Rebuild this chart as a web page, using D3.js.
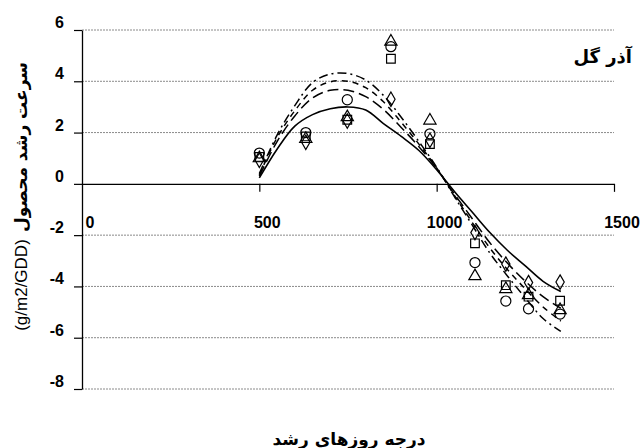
<!DOCTYPE html>
<html>
<head>
<meta charset="utf-8">
<script src="https://cdn.jsdelivr.net/npm/d3@7"></script>
<style>
  html, body { margin: 0; padding: 0; background: #fff; }
  svg { display: block; }
  .num { font-family: "Liberation Sans", Arial, sans-serif; font-weight: bold; font-size: 16px; fill: #000; }
  .fa { font-family: "DejaVu Sans", sans-serif; font-weight: bold; fill: #000; }
</style>
</head>
<body>
<svg id="chart" width="643" height="448"></svg>
<script>
// Growing degree days and observed crop growth rate for each treatment
const gdd = [500, 631, 748, 871, 981, 1108, 1195, 1259, 1348];
const obsCircle   = [1.2, 2.0, 3.28, 5.35, 1.95, -3.07, -4.57, -4.87, -5.08];
const obsSquare   = [1.05, 1.85, 2.5, 4.88, 1.55, -2.32, -3.95, -4.4, -4.56];
const obsTriangle = [1.0, 1.75, 2.6, 5.55, 2.47, -3.6, -4.1, -4.34, -4.92];
const obsDiamond  = [0.92, 1.62, 2.45, 3.3, 1.7, -1.9, -3.13, -3.85, -3.83];

// Fitted growth-rate curves sampled along the GDD axis
const fitX = [500, 550, 600, 650, 700, 750, 800, 850, 900, 950, 1000, 1050, 1100, 1150, 1200, 1250, 1300, 1350];
const fitSolid    = [0.23, 1.35, 2.25, 2.7, 2.93, 3.0, 2.88, 2.35, 1.85, 1.3, 0.55, -0.3, -1.1, -1.9, -2.6, -3.2, -3.8, -4.2];
const fitLongDash = [0.3, 1.65, 2.65, 3.35, 3.65, 3.65, 3.4, 2.9, 2.2, 1.45, 0.6, -0.4, -1.35, -2.3, -3.1, -3.8, -4.4, -4.85];
const fitDash     = [0.35, 1.8, 2.85, 3.65, 3.98, 4.0, 3.75, 3.2, 2.4, 1.55, 0.62, -0.45, -1.5, -2.5, -3.35, -4.1, -4.8, -5.35];
const fitDashDot  = [0.4, 1.9, 3.05, 3.95, 4.28, 4.3, 4.05, 3.45, 2.6, 1.65, 0.65, -0.5, -1.6, -2.7, -3.6, -4.45, -5.25, -5.75];

const xTicks = [0, 500, 1000, 1500];
const yTicks = [6, 4, 2, 0, -2, -4, -6, -8];

const svg = d3.select("#chart");
const x = d3.scaleLinear().domain([0, 1500]).range([82, 614]);
const y = d3.scaleLinear().domain([-8, 6]).range([389, 30]);

// horizontal dashed gridlines
svg.append("g").selectAll("line")
  .data(yTicks.filter(d => d !== 0))
  .join("line")
  .attr("x1", x(0)).attr("x2", x(1500))
  .attr("y1", d => y(d)).attr("y2", d => y(d))
  .attr("stroke", "#8a8a8a").attr("stroke-width", 1)
  .attr("stroke-dasharray", "2,1");

// y axis with left ticks; labels sit a little above their lines
const yAxis = svg.append("g").attr("transform", `translate(${x(0)},0)`)
  .call(d3.axisLeft(y).tickValues(yTicks).tickSize(8).tickSizeOuter(0).tickFormat(""));
yAxis.select(".domain").attr("stroke", "#000").attr("stroke-width", 1.3);
yAxis.selectAll(".tick line").attr("stroke", "#000").attr("stroke-width", 1.2);

svg.append("g").selectAll("text")
  .data(yTicks)
  .join("text")
  .attr("class", "num")
  .attr("x", 64)
  .attr("y", d => y(d) - 2)
  .attr("text-anchor", "end")
  .text(d => d);

// x axis along zero, ticks pointing down
const xAxis = svg.append("g").attr("transform", `translate(0,${y(0)})`)
  .call(d3.axisBottom(x).tickValues(xTicks.filter(d => d > 0)).tickSize(8).tickSizeOuter(0).tickFormat(""));
xAxis.select(".domain").attr("stroke", "#000").attr("stroke-width", 1.3);
xAxis.selectAll(".tick line").attr("stroke", "#000").attr("stroke-width", 1.2);

svg.append("g").selectAll("text")
  .data(xTicks)
  .join("text")
  .attr("class", "num")
  .attr("x", d => x(d) + 8)
  .attr("y", y(0) + 44)
  .attr("text-anchor", "middle")
  .text(d => d);

// fitted curves
const curves = [
  { v: fitSolid,    dash: null,        w: 1.6 },
  { v: fitLongDash, dash: "11,5",      w: 1.5 },
  { v: fitDash,     dash: "6,5",       w: 1.5 },
  { v: fitDashDot,  dash: "9,4,2,4",   w: 1.5 }
];
const line = d3.line().x(d => x(d[0])).y(d => y(d[1])).curve(d3.curveCatmullRom.alpha(0.5));
svg.append("g").selectAll("path")
  .data(curves)
  .join("path")
  .attr("d", c => line(fitX.map((g, i) => [g, c.v[i]])))
  .attr("fill", "none")
  .attr("stroke", "#000")
  .attr("stroke-width", c => c.w)
  .attr("stroke-dasharray", c => c.dash);

// observed points
const markers = [
  { v: obsCircle,   sym: d3.symbolCircle,   size: 80 },
  { v: obsSquare,   sym: d3.symbolSquare,   size: 75 },
  { v: obsTriangle, sym: d3.symbolTriangle, size: 65 },
  { v: obsDiamond,  sym: d3.symbolDiamond,  size: 60 }
];
markers.forEach(m => {
  svg.append("g").selectAll("path")
    .data(gdd.map((g, i) => [g, m.v[i]]))
    .join("path")
    .attr("transform", d => `translate(${x(d[0])},${y(d[1])})`)
    .attr("d", d3.symbol().type(m.sym).size(m.size))
    .attr("fill", "none")
    .attr("stroke", "#000")
    .attr("stroke-width", 1.2);
});

// series label
svg.append("text")
  .attr("class", "fa")
  .attr("x", 632).attr("y", 63)
  .attr("text-anchor", "end")
  .style("font-size", "18px")
  .text("آذر گل");

// axis titles
svg.append("text")
  .attr("class", "fa")
  .attr("x", 349).attr("y", 445)
  .attr("text-anchor", "middle")
  .style("font-size", "17px")
  .text("درجه روزهای رشد");

svg.append("text")
  .attr("class", "fa")
  .attr("transform", "translate(27,147) rotate(-90)")
  .attr("text-anchor", "middle")
  .style("font-size", "17px")
  .text("سرعت رشد محصول");

svg.append("text")
  .attr("transform", "translate(27,285) rotate(-90)")
  .attr("text-anchor", "middle")
  .style("font-family", "'Liberation Sans', Arial, sans-serif")
  .style("font-size", "17px")
  .text("(g/m2/GDD)");
</script>
</body>
</html>
